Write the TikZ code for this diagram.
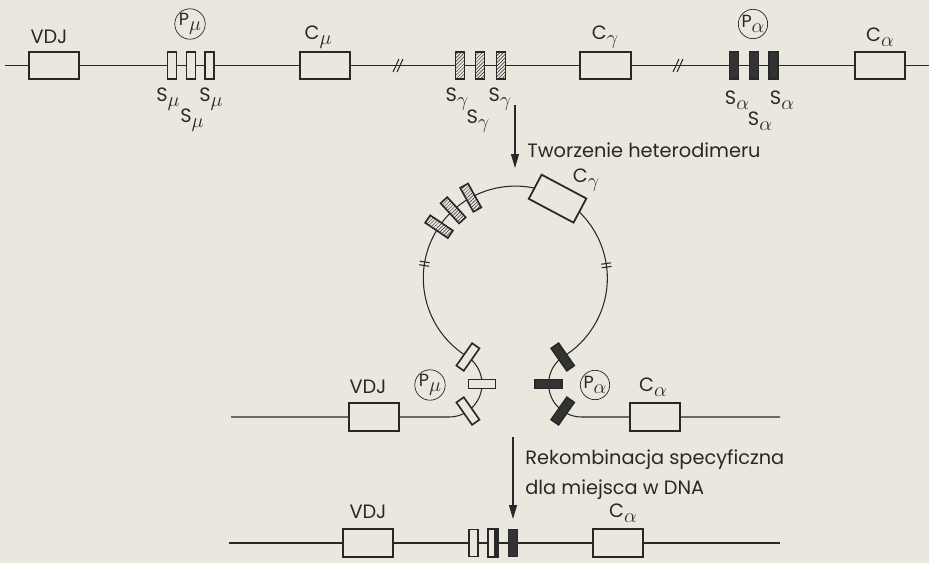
\documentclass[tikz,border=0pt]{standalone}
\usepackage{fontspec}
\setmainfont{Poppins}
\usetikzlibrary{arrows.meta,calc,patterns}
\definecolor{paper}{RGB}{234,231,222}
\definecolor{ink}{RGB}{40,40,40}
\newcommand{\lowsub}[1]{\raisebox{-0.5ex}{\fontsize{17}{17}\selectfont$#1$}}
\tikzset{
  dna/.style    = {draw=ink,line width=0.9pt},
  gene/.style   = {draw=ink,line width=1.5pt,fill=paper,minimum width=15.2mm,
                   minimum height=8.2mm,inner sep=0pt},
  sw/.style     = {draw=ink,line width=1.4pt,fill=paper,minimum width=2.7mm,
                   minimum height=8.2mm,inner sep=0pt},
  swmu/.style   = {sw},
  swgam/.style  = {sw,postaction={pattern=north east lines,pattern color=ink}},
  swal/.style   = {sw,fill=ink!95},
  prom/.style   = {circle,draw=ink,line width=0.6pt,minimum size=8.8mm,
                   inner sep=0pt,font=\fontsize{15}{15}\selectfont,text=ink},
  lbl/.style    = {font=\fontsize{16.5}{18}\selectfont,text=ink,inner sep=1pt},
  arr/.style    = {-{Triangle[length=4.2mm,width=2.4mm]},draw=ink,line width=0.9pt},
}

\begin{document}
\begin{tikzpicture}[x=0.3mm,y=0.3mm]
  \fill[paper] (0,0) rectangle (929,-563);
  \useasboundingbox (0,0) rectangle (929,-563);

  % gene map before switching
  \coordinate (top-l) at (5,-65.5);
  \coordinate (top-r) at (929,-65.5);
  \draw[dna] (top-l) -- (top-r);
  \foreach \x in {398,678}
    \draw[dna] (\x-5,-72) -- (\x+1,-59) (\x-1,-72) -- (\x+5,-59);

  \node[gene] (vdj)  at (54,-65.5) {};
  \node[gene] (cmu)  at (325,-65.5) {};
  \node[gene] (cgam) at (605.5,-65.5) {};
  \node[gene] (cal)  at (880,-65.5) {};
  \foreach \n/\x in {1/172,2/191,3/209.5}
    \node[swmu] (smu\n) at (\x,-65.5) {};
  \foreach \n/\x in {1/460,2/480,3/501}
    \node[swgam] (sgam\n) at (\x,-65.5) {};
  \foreach \n/\x in {1/734,2/754,3/773.5}
    \node[swal] (sal\n) at (\x,-65.5) {};

  \node[lbl]  (vdj-t)  at (49,-37)  {VDJ};
  \node[lbl]  (cmu-t)  at (318,-37) {C\lowsub{\mu}};
  \node[lbl]  (cgam-t) at (605,-37) {C\lowsub{\gamma}};
  \node[lbl]  (cal-t)  at (880,-37) {C\lowsub{\alpha}};
  \node[prom] (pmu)    at (190,-24) {P\lowsub{\mu}};
  \node[prom] (pal)    at (753,-24) {P\lowsub{\alpha}};

  \foreach \n/\x/\y in {1/168/-99,2/192/-120,3/211/-99}
    \node[lbl] (smu-t\n) at (\x,\y) {S\lowsub{\mu}};
  \foreach \n/\x/\y in {1/457/-99,2/478/-121,3/500/-99}
    \node[lbl] (sgam-t\n) at (\x,\y) {S\lowsub{\gamma}};
  \foreach \n/\x/\y in {1/737/-100,2/760/-121,3/782/-100}
    \node[lbl] (sal-t\n) at (\x,\y) {S\lowsub{\alpha}};

  \coordinate (a1s) at (515,-105);
  \coordinate (a1e) at (515,-168);
  \draw[arr] (a1s) -- (a1e);
  \node[lbl,anchor=west] (het) at (526,-150) {Tworzenie heterodimeru};

  % heterodimer loop
  \coordinate (mid-l) at (231,-417);
  \coordinate (mid-r) at (780,-417);
  \coordinate (lc)  at (449,-384);
  \coordinate (ctr) at (515.31,-278.11);
  \coordinate (rc)  at (581.62,-384);
  \draw[dna] (mid-l) -- ($(lc)+(0,-33)$) arc[start angle=-90,end angle=55,radius=33]
    arc[start angle=239,end angle=-59,radius=92]
    arc[start angle=125,end angle=270,radius=33] -- (mid-r);
  \foreach \a in {171,8}
    \draw[dna] ($(ctr)+(\a:87)+(\a+90:1.8)$) -- ++(\a:10)
               ($(ctr)+(\a:87)+(\a-90:1.8)$) -- ++(\a:10);

  \foreach \a/\n in {146/1,132.5/2,119/3}
    \node[swgam,rotate=\a-90] (cg\n) at ($(ctr)+(\a:92)$) {};
  \node[gene,rotate=-28] (cgam2) at ($(ctr)+(62:90)$) {};
  \node[lbl] (cgam2-t) at (586,-180) {C\lowsub{\gamma}};
  \foreach \a/\n in {55/1,0/2,-55/3}
    \node[swmu,rotate=\a-90] (lm\n) at ($(lc)+(\a:33)$) {};
  \foreach \a/\n in {125/1,180/2,235/3}
    \node[swal,rotate=\a-90] (ra\n) at ($(rc)+(\a:33)$) {};

  \node[gene] (vdj2) at (374,-417) {};
  \node[gene] (cal2) at (655,-417) {};
  \node[lbl]  (vdj2-t) at (368,-387) {VDJ};
  \node[lbl]  (cal2-t) at (653,-387) {C\lowsub{\alpha}};
  \node[prom] (pmu2) at (430,-385) {P\lowsub{\mu}};
  \node[prom] (pal2) at (595,-385) {P\lowsub{\alpha}};

  \coordinate (a2s) at (513,-437);
  \coordinate (a2e) at (513,-519);
  \draw[arr] (a2s) -- (a2e);
  \node[lbl,anchor=west] (rek1) at (524,-460) {Rekombinacja specyficzna};
  \node[lbl,anchor=west] (rek2) at (524,-490) {dla miejsca w DNA};

  % after recombination
  \coordinate (bot-l) at (229,-543);
  \coordinate (bot-r) at (780,-543);
  \draw[dna] (bot-l) -- (bot-r);
  \node[gene] (vdj3) at (368,-543) {};
  \node[gene] (cal3) at (618,-543) {};
  \node[swmu] (b1) at (473.5,-543) {};
  \node[swmu] (b2) at (493,-543) {};
  \fill[ink] ($(b2.north)+(1,0)$) rectangle (b2.south east);
  \draw[ink,line width=1.4pt] (b2.north west) rectangle (b2.south east);
  \node[swal] (b3) at (513,-543) {};
  \node[lbl] (vdj3-t) at (368,-512) {VDJ};
  \node[lbl] (cal3-t) at (623,-513) {C\lowsub{\alpha}};
\end{tikzpicture}
\end{document}
